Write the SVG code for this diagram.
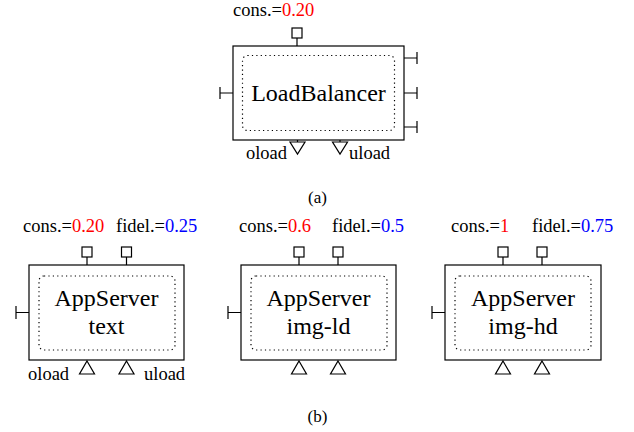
<svg xmlns="http://www.w3.org/2000/svg" width="634" height="432" viewBox="0 0 634 432">
<style>
text{font-family:"Liberation Serif","Times New Roman",serif;fill:#000}
.box{fill:#fff;stroke:#000;stroke-width:1.2}
.dot{fill:none;stroke:#000;stroke-width:1.2;stroke-dasharray:1.2 3.2}
.ln{fill:none;stroke:#000;stroke-width:1.2}
.port{fill:#fff;stroke:#000;stroke-width:1.2}
.lbl{font-size:24px;text-anchor:middle}
.sm{font-size:18.5px}
.cap{font-size:17px;text-anchor:middle}
.r{fill:#ff0000}
.b{fill:#0000ff}
</style>
<g id="loadbalancer">
<rect class="box" x="233" y="46" width="171" height="94"/>
<rect class="dot" x="242.5" y="55.5" width="152" height="75" rx="5"/>
<text class="lbl" x="318.5" y="101">LoadBalancer</text>
<text class="sm" x="233" y="15.5">cons.=<tspan class="r">0.20</tspan></text>
<line class="ln" x1="297" y1="38" x2="297" y2="46"/>
<rect class="port" x="292" y="28" width="10" height="10"/>
<path class="ln" d="M233 93H220M220 87V99"/>
<path class="ln" d="M404 58H417M417 52V64M404 93H417M417 87V99M404 127H417M417 121V133"/>
<path class="ln" d="M297.5 140V142M340 140V142"/>
<path class="port" d="M290 142H305L297.5 154Z"/>
<path class="port" d="M332.5 142H347.5L340 154Z"/>
<text class="sm" x="287" y="159" text-anchor="end">oload</text>
<text class="sm" x="349" y="159">uload</text>
</g>
<g id="caption-a"><text class="cap" x="317.5" y="203">(a)</text></g>
<g id="appserver-text">
<rect class="box" x="29" y="265" width="155" height="95"/>
<rect class="dot" x="39" y="276" width="136" height="74" rx="5"/>
<text class="lbl" x="106.5" y="306">AppServer</text>
<text class="lbl" x="106.5" y="334">text</text>
<text class="sm" x="23" y="232">cons.=<tspan class="r">0.20</tspan></text>
<text class="sm" x="116" y="232">fidel.=<tspan class="b">0.25</tspan></text>
<path class="ln" d="M87 257V265M126.5 257V265"/>
<rect class="port" x="82" y="247" width="10" height="10"/>
<rect class="port" x="121.5" y="247" width="10" height="10"/>
<path class="ln" d="M29 312.5H16M16 306V319"/>
<path class="port" d="M87 361L94.5 374H79.5Z"/>
<path class="port" d="M126.5 361L134 374H119Z"/>
<text class="sm" x="28" y="380">oload</text>
<text class="sm" x="144" y="380">uload</text>
</g>
<g id="appserver-img-ld">
<rect class="box" x="241" y="265" width="155" height="95"/>
<rect class="dot" x="251" y="276" width="136" height="74" rx="5"/>
<text class="lbl" x="318.5" y="306">AppServer</text>
<text class="lbl" x="318.5" y="334">img-ld</text>
<text class="sm" x="239" y="232">cons.=<tspan class="r">0.6</tspan></text>
<text class="sm" x="332" y="232">fidel.=<tspan class="b">0.5</tspan></text>
<path class="ln" d="M299 257V265M338 257V265"/>
<rect class="port" x="294" y="247" width="10" height="10"/>
<rect class="port" x="333" y="247" width="10" height="10"/>
<path class="ln" d="M241 312.5H228M228 306V319"/>
<path class="port" d="M299 361L306.5 374H291.5Z"/>
<path class="port" d="M338 361L345.5 374H330.5Z"/>
</g>
<g id="appserver-img-hd">
<rect class="box" x="445" y="265" width="156" height="95"/>
<rect class="dot" x="455" y="276" width="136" height="74" rx="5"/>
<text class="lbl" x="523" y="306">AppServer</text>
<text class="lbl" x="523" y="334">img-hd</text>
<text class="sm" x="451" y="232">cons.=<tspan class="r">1</tspan></text>
<text class="sm" x="532" y="232">fidel.=<tspan class="b">0.75</tspan></text>
<path class="ln" d="M503 257V265M542 257V265"/>
<rect class="port" x="498" y="247" width="10" height="10"/>
<rect class="port" x="537" y="247" width="10" height="10"/>
<path class="ln" d="M445 312.5H432M432 306V319"/>
<path class="port" d="M503 361L510.5 374H495.5Z"/>
<path class="port" d="M542 361L549.5 374H534.5Z"/>
</g>
<g id="caption-b"><text class="cap" x="317.5" y="422">(b)</text></g>
<g id="connectors"></g>
</svg>
